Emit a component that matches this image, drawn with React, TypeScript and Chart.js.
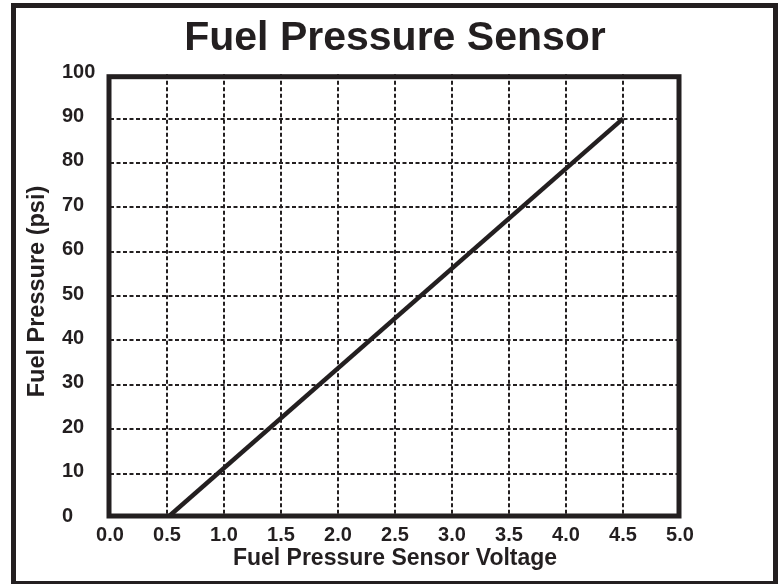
import React, { useEffect, useRef } from 'react';
import { Chart, registerables } from 'chart.js';

Chart.register(...registerables);

// ---- data ----
const voltage = [0.5, 4.5];
const pressure = [0, 90];
const xTickValues = [0, 0.5, 1.0, 1.5, 2.0, 2.5, 3.0, 3.5, 4.0, 4.5, 5.0];
const yTickValues = [0, 10, 20, 30, 40, 50, 60, 70, 80, 90, 100];

const chartTitle = 'Fuel Pressure Sensor';
const xTitle = 'Fuel Pressure Sensor Voltage';
const yTitle = 'Fuel Pressure (psi)';

const INK = '#231f20';
const FAMILY = '"Liberation Sans", Arial, Helvetica, sans-serif';

const framePlugin = {
  id: 'framePlugin',
  afterDraw(chart: any) {
    const { ctx, chartArea } = chart;
    ctx.save();
    ctx.strokeStyle = INK;
    // outer frame
    ctx.lineWidth = 5;
    ctx.strokeRect(13.5, 5.5, 762, 578);
    // plot box
    ctx.lineWidth = 5;
    const l = chartArea.left - 1;
    const r = chartArea.right - 1;
    const t = chartArea.top + 2.5;
    const b = chartArea.bottom - 2;
    ctx.strokeRect(l, t, r - l, b - t);
    // y axis title
    ctx.fillStyle = INK;
    ctx.font = `bold 23.5px ${FAMILY}`;
    ctx.textAlign = 'center';
    ctx.textBaseline = 'middle';
    ctx.translate(37.5, 291.5);
    ctx.rotate(-Math.PI / 2);
    ctx.fillText(yTitle, 0, 0);
    ctx.restore();
  },
};

const gridColor = (lo: number, hi: number) => (c: any) => {
  const v = c.tick ? c.tick.value : null;
  return v === lo || v === hi ? 'rgba(0,0,0,0)' : INK;
};

export default function App() {
  const ref = useRef<HTMLCanvasElement | null>(null);

  useEffect(() => {
    if (!ref.current) return;
    const chart = new Chart(ref.current, {
      type: 'scatter',
      data: {
        datasets: [
          {
            data: voltage.map((x, i) => ({ x, y: pressure[i] })),
            showLine: true,
            borderColor: INK,
            backgroundColor: INK,
            borderWidth: 4.5,
            pointRadius: 0,
            pointHoverRadius: 0,
            tension: 0,
          },
        ],
      },
      options: {
        responsive: false,
        animation: false,
        devicePixelRatio: 1,
        layout: { padding: { left: 62, right: 103, top: 0, bottom: 0 } },
        plugins: {
          legend: { display: false },
          tooltip: { enabled: false },
          title: {
            display: true,
            fullSize: false,
            text: chartTitle,
            color: INK,
            font: { family: FAMILY, size: 41, weight: 'bold' },
            padding: { top: 14, bottom: 11 },
          },
        },
        scales: {
          x: {
            type: 'linear',
            position: 'bottom',
            min: 0,
            max: 5,
            afterBuildTicks: (s: any) => {
              s.ticks = xTickValues.map((v) => ({ value: v }));
            },
            afterFit: (s: any) => {
              s.height = 66;
            },
            ticks: {
              color: INK,
              font: { family: FAMILY, size: 20, weight: 'bold' },
              padding: 5,
              maxRotation: 0,
              autoSkip: false,
              callback: (v: any) => Number(v).toFixed(1),
            },
            grid: { color: gridColor(0, 5), lineWidth: 2, drawTicks: false },
            border: { display: false, dash: [4, 2.5] },
            title: {
              display: true,
              text: xTitle,
              color: INK,
              font: { family: FAMILY, size: 23, weight: 'bold' },
              padding: { top: 0, bottom: 12 },
            },
          },
          y: {
            type: 'linear',
            position: 'left',
            min: 0,
            max: 100,
            afterBuildTicks: (s: any) => {
              s.ticks = yTickValues.map((v) => ({ value: v }));
            },
            afterFit: (s: any) => {
              s.width = 48;
            },
            ticks: {
              color: INK,
              font: { family: FAMILY, size: 20, weight: 'bold' },
              padding: 0,
              crossAlign: 'far',
              labelOffset: -2,
              autoSkip: false,
            },
            grid: { color: gridColor(0, 100), lineWidth: 2, drawTicks: false },
            border: { display: false, dash: [4, 2.5] },
            title: { display: false },
          },
        },
      },
      plugins: [framePlugin],
    } as any);
    return () => chart.destroy();
  }, []);

  return (
    <div style={{ position: 'fixed', left: 0, top: 0, width: 783, height: 584, background: '#fff' }}>
      <canvas ref={ref} width={783} height={584} />
    </div>
  );
}
